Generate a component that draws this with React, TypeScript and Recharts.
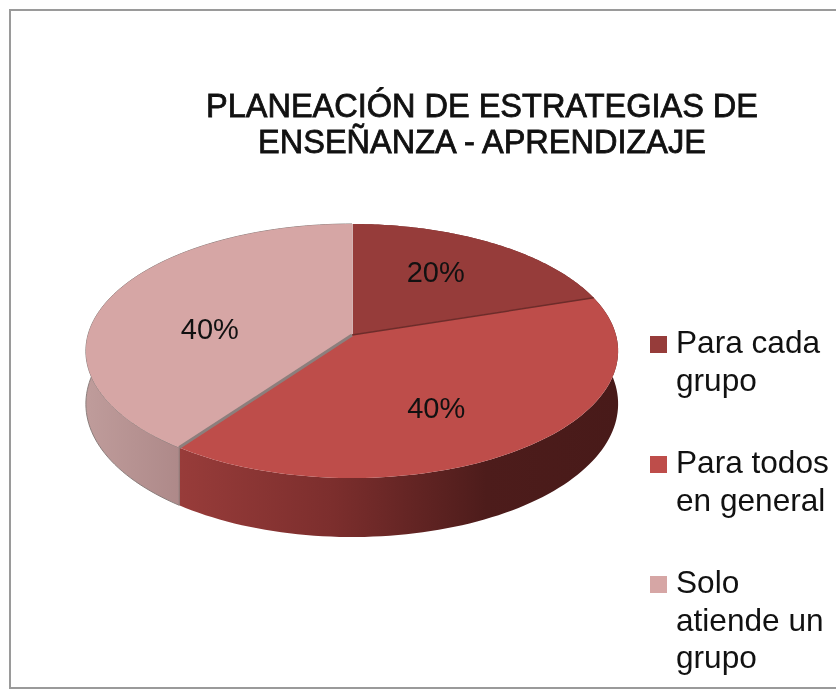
import { Legend, Pie, PieChart } from 'recharts';

const categories = ['Para cada grupo', 'Para todos en general', 'Solo atiende un grupo'];
const percents = [20, 40, 40];
const sliceColors = ['#963c3a', '#be4d4a', '#d6a6a5'];
const wallFills = ['#6e2a29', 'url(#wallTodos)', 'url(#wallSolo)'];
const edgeColors = ['#eadcdc', '#6d2c2a', '#8c7f7d'];
const edgeWidths = [1.5, 1.5, 3];
const labelNudges = [
  [-4, -6],
  [-15, 8],
  [5, 17],
];

const data = categories.map((name, i) => ({ name, value: percents[i], fill: sliceColors[i], index: i }));

const TILT = 0.4735;
const PERSPECTIVE = -0.126;
const DEPTH = 52;

// circle on the table -> screen, front of the pie comes out bigger
function project(cx: number, cy: number, radius: number, angle: number, r = 1) {
  const t = ((90 - angle) * Math.PI) / 180;
  const u = Math.sin(t) * r;
  const v = -Math.cos(t) * r;
  const d = 1 + PERSPECTIVE * v;
  return { x: cx + (radius * u) / d, y: cy + (radius * TILT * v) / d, v };
}

function rim(props: any) {
  const { cx, cy, outerRadius, startAngle, endAngle } = props;
  const pts = [];
  const steps = 90;
  for (let i = 0; i <= steps; i++) {
    pts.push(project(cx, cy, outerRadius, startAngle + ((endAngle - startAngle) * i) / steps));
  }
  return pts;
}

function TopFace(props: any) {
  const { cx, cy, outerRadius, startAngle, fill, index } = props;
  const path = rim(props).map((p) => `${p.x},${p.y}`).join(' L');
  const edge = project(cx, cy, outerRadius, startAngle);
  return (
    <g>
      <path d={`M${cx},${cy} L${path} Z`} fill={fill} stroke="none" />
      <line x1={cx} y1={cy} x2={edge.x} y2={edge.y} stroke={edgeColors[index]} strokeWidth={edgeWidths[index]} />
    </g>
  );
}

function Wall(props: any) {
  const { index } = props;
  const top = rim(props);
  const bottom = [...top].reverse().map((p) => ({ x: p.x, y: p.y + DEPTH + 7 * p.v }));
  const path = [...top, ...bottom].map((p) => `${p.x},${p.y}`).join(' L');
  return <path d={`M${path} Z`} fill={wallFills[index]} stroke={index === 2 ? '#8c7f7d' : 'none'} strokeWidth={index === 2 ? 1 : 0} />;
}

function SliceLabel(props: any) {
  const { cx, cy, outerRadius, midAngle, value, index } = props;
  const p = project(cx, cy, outerRadius, midAngle, 0.6);
  return (
    <text
      x={p.x + labelNudges[index][0]}
      y={p.y + labelNudges[index][1]}
      textAnchor="middle"
      dominantBaseline="central"
      fontSize={29}
      fill="#111"
    >
      {`${value}%`}
    </text>
  );
}

function LegendBox({ payload }: any) {
  // both pies report their slices, keep one entry per category
  const seen = new Set<string>();
  const items = (payload || []).filter((entry: any) => {
    if (seen.has(entry.value)) return false;
    seen.add(entry.value);
    return true;
  });
  return (
    <div>
      {items.map((entry: any) => (
        <div key={entry.value} style={{ position: 'relative', width: 160, paddingLeft: 26, marginBottom: 45, fontSize: 31.6, lineHeight: '37.5px', color: '#111' }}>
          <span style={{ position: 'absolute', left: 0, top: 12, width: 17, height: 17, background: entry.color }} />
          {entry.value}
        </div>
      ))}
    </div>
  );
}

export default function App() {
  return (
    <div style={{ position: 'absolute', left: 0, top: 0, width: 836, height: 690, overflow: 'hidden', background: '#fff', fontFamily: '"Liberation Sans", Arial, sans-serif', filter: 'blur(0.45px)' }}>
      <div style={{ position: 'absolute', left: 9, top: 9, width: 840, height: 680, border: '2px solid #9a9a9a', boxSizing: 'border-box' }} />
      <div style={{ position: 'absolute', left: 132, top: 88, width: 700, textAlign: 'center', fontSize: 32.5, lineHeight: '36px', color: '#111', WebkitTextStroke: '0.8px #111' }}>
        PLANEACIÓN DE ESTRATEGIAS DE
        <br />
        ENSEÑANZA - APRENDIZAJE
      </div>
      <PieChart width={836} height={690} margin={{ top: 0, right: 0, bottom: 0, left: 0 }} style={{ position: 'absolute', left: 0, top: 0 }}>
        <defs>
          <linearGradient id="wallTodos" x1="0" y1="0" x2="1" y2="0">
            <stop offset="0" stopColor="#983c3a" />
            <stop offset="0.35" stopColor="#7c2e2d" />
            <stop offset="0.7" stopColor="#4d1c1b" />
            <stop offset="1" stopColor="#481a19" />
          </linearGradient>
          <linearGradient id="wallSolo" x1="0" y1="0" x2="1" y2="0">
            <stop offset="0" stopColor="#bf9c9b" />
            <stop offset="0.37" stopColor="#ad8888" />
            <stop offset="1" stopColor="#ad8888" />
          </linearGradient>
        </defs>
        <Pie
          data={data}
          dataKey="value"
          nameKey="name"
          cx={352}
          cy={335}
          outerRadius={264}
          startAngle={90}
          endAngle={-270}
          stroke="none"
          legendType="none"
          shape={Wall}
          isAnimationActive={false}
        />
        <Pie
          data={data}
          dataKey="value"
          nameKey="name"
          cx={352}
          cy={335}
          outerRadius={264}
          startAngle={90}
          endAngle={-270}
          stroke="none"
          legendType="square"
          shape={TopFace}
          label={SliceLabel}
          labelLine={false}
          isAnimationActive={false}
        />
        <Legend content={<LegendBox />} layout="vertical" align="center" verticalAlign="middle" wrapperStyle={{ left: 650, top: 324, width: 186 }} />
      </PieChart>
    </div>
  );
}
